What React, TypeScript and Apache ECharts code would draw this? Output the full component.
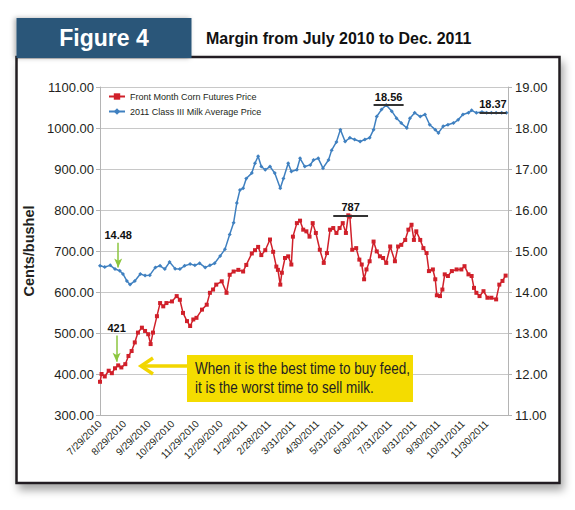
import React, { useEffect, useRef } from "react";
import * as echarts from "echarts";

// ---- data (day offsets from 7/29/2010) ----
const tickDays = [0, 31, 62, 92, 123, 153, 184, 214, 245, 275, 306, 336, 367, 398, 428, 459, 489];
const tickLabels = [
  "7/29/2010", "8/29/2010", "9/29/2010", "10/29/2010", "11/29/2010", "12/29/2010",
  "1/29/2011", "2/28/2011", "3/31/2011", "4/30/2011", "5/31/2011", "6/30/2011",
  "7/31/2011", "8/31/2011", "9/30/2011", "10/31/2011", "11/30/2011",
];

const cornDays = [
  0, 2, 6, 11, 15, 19, 23, 27, 32, 36, 40, 44, 48, 53, 57, 61, 64, 67, 72, 76,
  80, 84, 91, 97, 101, 105, 110, 114, 118, 122, 129, 135, 139, 143, 147, 154, 160, 164, 169, 175,
  181, 185, 192, 196, 200, 204, 209, 215, 219, 223, 225, 228, 230, 234, 238, 242, 244, 249, 253, 257,
  261, 265, 269, 273, 278, 283, 287, 291, 295, 299, 303, 307, 311, 314, 316, 319, 324, 328, 331, 334,
  337, 341, 346, 350, 354, 358, 362, 367, 373, 377, 381, 386, 390, 394, 397, 400, 405, 409, 413, 416,
  421, 424, 426, 430, 433, 436, 440, 445, 451, 457, 461, 466, 470, 473, 476, 480, 485, 490, 495, 501,
  505, 509, 513,
];
const cornPrice = [
  381, 400, 394, 408, 402, 414, 421, 416, 424, 444, 456, 477, 501, 513, 505, 497, 473, 501, 541, 573,
  565, 573, 577, 590, 581, 549, 529, 517, 533, 537, 557, 569, 598, 606, 618, 626, 598, 642, 650, 654,
  650, 666, 694, 702, 710, 690, 702, 728, 698, 662, 654, 618, 647, 683, 687, 667, 735, 768, 774, 752,
  748, 735, 768, 744, 703, 671, 695, 752, 756, 744, 756, 768, 744, 787, 784, 703, 707, 679, 667, 631,
  655, 675, 723, 699, 687, 683, 671, 711, 675, 711, 715, 727, 752, 764, 727, 748, 727, 707, 695, 651,
  655, 631, 592, 590, 606, 643, 639, 651, 655, 655, 663, 643, 639, 610, 598, 590, 602, 586, 586, 582,
  618, 627, 640,
];

const milkDays = [
  0, 6, 13, 19, 25, 29, 34, 38, 44, 51, 57, 63, 70, 76, 82, 88, 95, 101, 107, 114,
  120, 126, 133, 139, 145, 152, 158, 164, 169, 173, 177, 181, 185, 192, 196, 200, 204, 209, 215, 221,
  228, 232, 238, 242, 249, 253, 259, 266, 270, 276, 282, 289, 293, 299, 304, 310, 316, 322, 329, 335,
  341, 346, 350, 356, 362, 369, 375, 381, 388, 392, 398, 405, 411, 417, 424, 428, 434, 440, 447, 453,
  459, 466, 470, 476, 483, 489, 495, 501, 508, 514,
];
const milkPrice = [
  14.64, 14.61, 14.65, 14.56, 14.52, 14.44, 14.27, 14.18, 14.27, 14.44, 14.40, 14.41, 14.60, 14.64, 14.56, 14.73, 14.57, 14.56, 14.64, 14.68,
  14.65, 14.70, 14.60, 14.65, 14.70, 14.88, 15.04, 15.40, 15.69, 16.17, 16.49, 16.53, 16.77, 16.90, 17.14, 17.31, 17.06, 16.98, 17.06, 16.90,
  16.53, 16.77, 17.14, 16.94, 16.98, 17.26, 17.06, 17.10, 17.22, 17.26, 17.02, 17.22, 17.46, 17.66, 17.96, 17.67, 17.76, 17.72, 17.67, 17.72,
  17.76, 17.96, 18.28, 18.45, 18.56, 18.41, 18.24, 18.12, 18.00, 18.24, 18.37, 18.28, 18.33, 18.08, 17.96, 17.88, 18.04, 18.08, 18.12, 18.20,
  18.33, 18.37, 18.43, 18.37, 18.39, 18.37, 18.37, 18.37, 18.37, 18.37,
];

const seriesNames = ["Front Month Corn Futures Price", "2011 Class III Milk Average Price"];

const SANS = '"Liberation Sans", Arial, Helvetica, sans-serif';
const RED = "#d0202a";
const BLUE = "#3f80c0";
const GREEN = "#8cc63f";
const DARK = "#231f20";

export default function App() {
  const ref = useRef<HTMLDivElement>(null);

  useEffect(() => {
    if (!ref.current) return;
    const chart = echarts.init(ref.current, undefined, { renderer: "svg" });

    const cornData = cornDays.map((d, i) => [d, cornPrice[i]]);
    const milkData = milkDays.map((d, i) => [d, milkPrice[i]]);

    const barLabel = (txt: string) => ({
      show: true,
      formatter: txt,
      position: "insideMiddleTop",
      distance: 3,
      color: "#111",
      fontFamily: SANS,
      fontWeight: "bold",
      fontSize: 11,
    });
    const arrowLabel = (txt: string) => ({
      show: true,
      formatter: txt,
      position: "start",
      distance: 2,
      color: "#111",
      fontFamily: SANS,
      fontWeight: "bold",
      fontSize: 11,
    });

    const textEl = (txt: string, x: number, y: number, font: string, fill: string, sx: number, align = "left") => ({
      type: "text",
      z: 51,
      x,
      y,
      scaleX: sx,
      style: {
        text: txt,
        font,
        fill,
        align,
        verticalAlign: "middle",
        textAlign: align,
        textVerticalAlign: "middle",
      },
    });

    const option: any = {
      animation: false,
      backgroundColor: "#ffffff",
      grid: { left: 100, right: 67, top: 87, bottom: 95 },
      legend: {
        orient: "vertical",
        left: 103,
        top: 86,
        itemWidth: 16,
        itemHeight: 8,
        itemGap: 4,
        data: seriesNames,
        textStyle: { fontFamily: SANS, fontSize: 9, color: DARK, lineHeight: 11 },
      },
      xAxis: {
        type: "value",
        min: 0,
        max: 516,
        axisLine: { show: true, lineStyle: { color: "#b4b4b4", width: 1 } },
        axisTick: { show: false },
        splitLine: { show: false },
        axisLabel: {
          customValues: tickDays,
          rotate: 45,
          margin: 7,
          fontFamily: SANS,
          fontSize: 10,
          color: DARK,
          formatter: (v: number) => {
            const i = tickDays.indexOf(Math.round(v));
            return i >= 0 ? tickLabels[i] : "";
          },
        },
      },
      yAxis: [
        {
          type: "value",
          min: 300,
          max: 1100,
          interval: 100,
          name: "Cents/bushel",
          nameLocation: "middle",
          nameGap: 49,
          nameTextStyle: { fontFamily: SANS, fontWeight: "bold", fontSize: 14.5, color: DARK },
          axisLine: { show: true, lineStyle: { color: "#b4b4b4" } },
          axisTick: { show: true, length: 4, lineStyle: { color: "#b4b4b4" } },
          splitLine: { show: true, lineStyle: { color: "#c8c8c8", width: 1 } },
          axisLabel: {
            fontFamily: SANS,
            fontSize: 13,
            color: DARK,
            margin: 6,
            formatter: (v: number) => v.toFixed(2),
          },
        },
        {
          type: "value",
          min: 11,
          max: 19,
          interval: 1,
          position: "right",
          axisLine: { show: true, lineStyle: { color: "#b4b4b4" } },
          axisTick: { show: true, length: 4, lineStyle: { color: "#b4b4b4" } },
          splitLine: { show: false },
          axisLabel: {
            fontFamily: SANS,
            fontSize: 13,
            color: DARK,
            margin: 7,
            formatter: (v: number) => v.toFixed(2),
          },
        },
      ],
      series: [
        {
          name: seriesNames[0],
          type: "line",
          yAxisIndex: 0,
          data: cornData,
          symbol: "rect",
          symbolSize: 4,
          showSymbol: true,
          lineStyle: { color: RED, width: 1.5 },
          itemStyle: { color: RED },
          z: 3,
          markLine: {
            silent: true,
            animation: false,
            symbol: ["none", "none"],
            data: [
              [
                { coord: [295, 787], label: barLabel("787"), lineStyle: { color: "#333", width: 2, type: "solid" } },
                { coord: [339, 787] },
              ],
              [
                {
                  coord: [21, 494],
                  symbol: "none",
                  label: arrowLabel("421"),
                  lineStyle: { color: GREEN, width: 1.5, type: "solid" },
                },
                { coord: [21, 430], symbol: "arrow", symbolSize: [6, 9] },
              ],
            ],
          },
        },
        {
          name: seriesNames[1],
          type: "line",
          yAxisIndex: 1,
          data: milkData,
          symbol: "diamond",
          symbolSize: 4,
          showSymbol: true,
          lineStyle: { color: BLUE, width: 1.5 },
          itemStyle: { color: BLUE },
          z: 3,
          markLine: {
            silent: true,
            animation: false,
            symbol: ["none", "none"],
            data: [
              [
                { coord: [346, 18.56], label: barLabel("18.56"), lineStyle: { color: "#333", width: 2, type: "solid" } },
                { coord: [384, 18.56] },
              ],
              [
                { coord: [480, 18.37], label: barLabel("18.37"), lineStyle: { color: "#333", width: 2, type: "solid" } },
                { coord: [514, 18.37] },
              ],
              [
                {
                  coord: [23, 15.2],
                  symbol: "none",
                  label: arrowLabel("14.48"),
                  lineStyle: { color: GREEN, width: 1.5, type: "solid" },
                },
                { coord: [23, 14.6], symbol: "arrow", symbolSize: [6, 9] },
              ],
            ],
          },
        },
      ],
      graphic: [
        {
          type: "rect",
          z: -10,
          shape: { x: 16.5, y: 57, width: 543, height: 426 },
          style: {
            fill: "#ffffff",
            stroke: DARK,
            lineWidth: 2.5,
            shadowBlur: 8,
            shadowOffsetX: 3,
            shadowOffsetY: 6,
            shadowColor: "rgba(0,0,0,0.35)",
          },
        },
        {
          type: "rect",
          z: -9,
          shape: { x: 16.5, y: 18, width: 175, height: 40 },
          style: {
            fill: "#2c5779",
            shadowBlur: 5,
            shadowOffsetX: -2,
            shadowOffsetY: 0,
            shadowColor: "rgba(0,0,0,0.3)",
          },
        },
        textEl("Figure 4", 104, 38, `bold 23px ${SANS}`, "#ffffff", 1, "center"),
        textEl("Margin from July 2010 to Dec. 2011", 206, 38, `bold 17px ${SANS}`, "#111111", 0.94),
        {
          type: "polyline",
          z: 50,
          shape: { points: [[187, 366], [143, 366]] },
          style: { stroke: "#f2d600", lineWidth: 3.5, fill: "none" },
        },
        {
          type: "polyline",
          z: 50,
          shape: { points: [[153, 358], [141, 366], [153, 374]] },
          style: { stroke: "#f2d600", lineWidth: 3.5, fill: "none" },
        },
        {
          type: "rect",
          z: 50,
          shape: { x: 187, y: 355, width: 226, height: 47 },
          style: { fill: "#f4dc00" },
        },
        textEl("When it is the best time to buy feed,", 195, 368, `16.5px ${SANS}`, DARK, 0.82),
        textEl("it is the worst time to sell milk.", 195, 387, `16.5px ${SANS}`, DARK, 0.82),
      ],
    };

    chart.setOption(option);
    return () => chart.dispose();
  }, []);

  return (
    <div
      ref={ref}
      style={{ position: "absolute", left: 0, top: 0, width: 575, height: 510, background: "#fff" }}
    />
  );
}
